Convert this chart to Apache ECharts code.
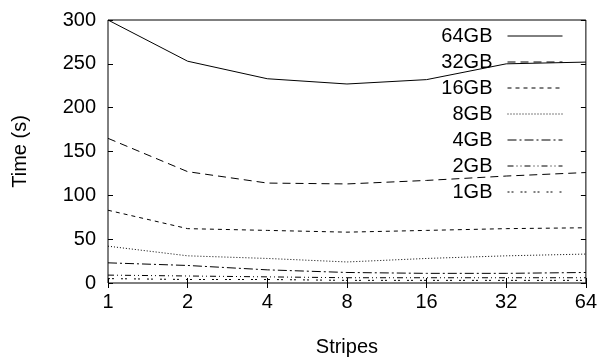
<!DOCTYPE html>
<html>
<head>
<meta charset="utf-8">
<script src="https://cdn.jsdelivr.net/npm/echarts@6/dist/echarts.min.js"></script>
<style>
  html, body { margin: 0; padding: 0; background: #fff; }
  #chart { width: 600px; height: 362px; }
</style>
</head>
<body>
<div id="chart"></div>
<script>
const stripes = ['1', '2', '4', '8', '16', '32', '64'];
const yTicks = [0, 50, 100, 150, 200, 250, 300];

const gb64 = [300, 253, 233, 227, 232, 250, 252];
const gb32 = [165, 127, 114, 113, 117, 122, 126];
const gb16 = [83, 62, 60, 58, 60, 62, 63];
const gb8 = [42, 31, 28, 24, 28, 31, 33];
const gb4 = [23, 20, 15, 12, 11, 11, 12];
const gb2 = [9, 8, 7, 6, 6, 6, 6];
const gb1 = [5, 4, 4, 3, 3, 3, 3];

const font = "'Liberation Sans', Arial, sans-serif";
const fs = 20;

const seriesDefs = [
  { name: '64GB', data: gb64, dash: 'solid' },
  { name: '32GB', data: gb32, dash: [8, 5] },
  { name: '16GB', data: gb16, dash: [4, 4] },
  { name: '8GB', data: gb8, dash: [1, 2] },
  { name: '4GB', data: gb4, dash: [9, 3, 2, 3] },
  { name: '2GB', data: gb2, dash: [6, 3, 1, 3, 1, 3] },
  { name: '1GB', data: gb1, dash: [2, 2, 2, 7] }
];

const chart = echarts.init(document.getElementById('chart'));

const option = {
  animation: false,
  textStyle: { fontFamily: font },
  grid: {
    left: 108, right: 12, top: 20, bottom: 78,
    show: true, borderColor: '#000', borderWidth: 1
  },
  legend: {
    orient: 'vertical',
    right: 32,
    top: 21,
    align: 'right',
    itemWidth: 55,
    itemHeight: 14,
    itemGap: 6,
    itemStyle: { opacity: 0 },
    lineStyle: { width: 1 },
    textStyle: { fontSize: fs, lineHeight: 20, color: '#000', fontFamily: font, padding: [0, 10, 0, 0] },
    data: seriesDefs.map(s => s.name)
  },
  xAxis: [
    {
      type: 'category',
      data: stripes,
      boundaryGap: false,
      name: 'Stripes',
      nameLocation: 'middle',
      nameGap: 54,
      nameTextStyle: { fontSize: fs, color: '#000' },
      axisLine: { show: false },
      axisTick: { inside: true, length: 5, lineStyle: { color: '#000' } },
      axisLabel: { fontSize: fs, color: '#000', margin: 9 },
      splitLine: { show: false }
    },
    {
      type: 'category',
      data: stripes,
      boundaryGap: false,
      position: 'top',
      axisLine: { show: false },
      axisTick: { inside: true, length: 5, lineStyle: { color: '#000' } },
      axisLabel: { show: false },
      splitLine: { show: false }
    }
  ],
  yAxis: [
    {
      type: 'value',
      min: yTicks[0],
      max: yTicks[yTicks.length - 1],
      interval: 50,
      name: 'Time (s)',
      nameLocation: 'middle',
      nameGap: 78,
      nameTextStyle: { fontSize: fs, color: '#000' },
      axisLine: { show: false },
      axisTick: { show: true, inside: true, length: 5, lineStyle: { color: '#000' } },
      axisLabel: { fontSize: fs, color: '#000', margin: 12 },
      splitLine: { show: false }
    },
    {
      type: 'value',
      min: yTicks[0],
      max: yTicks[yTicks.length - 1],
      interval: 50,
      position: 'right',
      axisLine: { show: false },
      axisTick: { show: true, inside: true, length: 5, lineStyle: { color: '#000' } },
      axisLabel: { show: false },
      splitLine: { show: false }
    }
  ],
  series: seriesDefs.map(s => ({
    name: s.name,
    type: 'line',
    data: s.data,
    symbol: 'none',
    itemStyle: { color: '#000' },
    lineStyle: { color: '#000', width: 1, type: s.dash }
  }))
};

chart.setOption(option);
</script>
</body>
</html>
